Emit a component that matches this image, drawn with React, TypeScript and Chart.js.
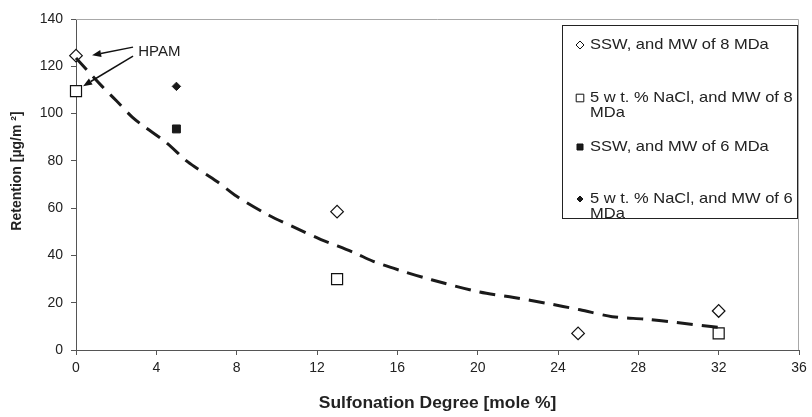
import React, { useEffect, useRef } from "react";
import { Chart, registerables } from "chart.js";

Chart.register(...registerables);

// ---------- data ----------
const xTickValues = [0, 4, 8, 12, 16, 20, 24, 28, 32, 36];
const yTickValues = [0, 20, 40, 60, 80, 100, 120, 140];

const ssw8X = [0, 13, 25, 32];
const ssw8Y = [124.5, 58.5, 7, 16.5];
const nacl8X = [0, 13, 32];
const nacl8Y = [109.5, 30, 7];
const ssw6X = [5];
const ssw6Y = [93.5];
const nacl6X = [5];
const nacl6Y = [111.5];

const trendX = [0, 1.3, 2, 2.8, 3.4, 4.5, 5.5, 6, 7, 8, 9.6, 11.3, 12.2, 13, 13.9, 14.8, 16.2, 17.7, 20.1, 21.8, 23.4, 25.1, 26.7, 28.4, 29.9, 32];
const trendY = [123.5, 111.5, 105.5, 98.5, 94.5, 87.7, 80, 77, 71.4, 65, 57, 50.2, 46.7, 44.1, 41, 37.5, 33.5, 29.7, 24.5, 22.2, 19.8, 17, 14.1, 13, 11.6, 9.6];

const legendLines = [
  ["SSW, and MW of 8 MDa"],
  ["5 w t. % NaCl, and MW of 8", "MDa"],
  ["SSW, and MW of 6 MDa"],
  ["5 w t. % NaCl, and MW of 6", "MDa"],
];

const xTitle = "Sulfonation Degree [mole %]";
const yTitle = "Retention [µg/m ²]";
const hpamText = "HPAM";

const FONT = "'Liberation Sans', Arial, sans-serif";

const toPts = (xs: number[], ys: number[]) => xs.map((x, i) => ({ x, y: ys[i] }));

function drawMarker(ctx: CanvasRenderingContext2D, style: string, x: number, y: number, r: number, fill: string) {
  ctx.save();
  ctx.beginPath();
  if (style === "rectRot") {
    ctx.moveTo(x - r, y);
    ctx.lineTo(x, y - r);
    ctx.lineTo(x + r, y);
    ctx.lineTo(x, y + r);
    ctx.closePath();
  } else {
    ctx.rect(x - r, y - r, 2 * r, 2 * r);
  }
  ctx.fillStyle = fill;
  ctx.fill();
  ctx.strokeStyle = "#111";
  ctx.lineWidth = 1;
  ctx.stroke();
  ctx.restore();
}

function stretchedText(ctx: CanvasRenderingContext2D, text: string, x: number, y: number, sx: number) {
  ctx.save();
  ctx.translate(x, y);
  ctx.scale(sx, 1);
  ctx.fillText(text, 0, 0);
  ctx.restore();
}

const decorPlugin = {
  id: "decor",
  afterDraw(chart: any) {
    const { ctx, chartArea, scales } = chart;
    const xs = scales.x;
    const ys = scales.y;
    ctx.save();
    // plot frame top/right
    ctx.strokeStyle = "#a8a8a8";
    ctx.lineWidth = 1;
    ctx.beginPath();
    ctx.moveTo(chartArea.left, chartArea.top + 0.5);
    ctx.lineTo(chartArea.right - 0.5, chartArea.top + 0.5);
    ctx.lineTo(chartArea.right - 0.5, chartArea.bottom);
    ctx.stroke();

    // axis titles
    ctx.fillStyle = "#222";
    ctx.font = `bold 16px ${FONT}`;
    ctx.textAlign = "center";
    ctx.textBaseline = "middle";
    stretchedText(ctx, xTitle, (chartArea.left + chartArea.right) / 2, 404, 1.09);
    ctx.save();
    ctx.translate(17, 171);
    ctx.rotate(-Math.PI / 2);
    ctx.font = `bold 14px ${FONT}`;
    ctx.fillText(yTitle, 0, 0);
    ctx.restore();

    // HPAM annotation
    ctx.font = `15px ${FONT}`;
    ctx.textAlign = "left";
    ctx.fillStyle = "#222";
    ctx.fillText(hpamText, xs.getPixelForValue(3.1), ys.getPixelForValue(126));
    const arrows = [
      [2.84, 128.1, 0.8, 124.7],
      [2.84, 124.3, 0.35, 111.6],
    ];
    ctx.strokeStyle = "#111";
    ctx.fillStyle = "#111";
    ctx.lineWidth = 1.5;
    arrows.forEach(([fx, fy, tx, ty]) => {
      const x1 = xs.getPixelForValue(fx), y1 = ys.getPixelForValue(fy);
      const x2 = xs.getPixelForValue(tx), y2 = ys.getPixelForValue(ty);
      const ang = Math.atan2(y2 - y1, x2 - x1);
      const hl = 9, hw = 3.5;
      const bx = x2 - hl * Math.cos(ang), by = y2 - hl * Math.sin(ang);
      ctx.beginPath();
      ctx.moveTo(x1, y1);
      ctx.lineTo(bx, by);
      ctx.stroke();
      ctx.beginPath();
      ctx.moveTo(x2, y2);
      ctx.lineTo(bx + hw * Math.sin(ang), by - hw * Math.cos(ang));
      ctx.lineTo(bx - hw * Math.sin(ang), by + hw * Math.cos(ang));
      ctx.closePath();
      ctx.fill();
    });

    // legend
    const bx0 = 562.5, by0 = 25.5, bx1 = 797.5, by1 = 218.5;
    ctx.fillStyle = "#fff";
    ctx.fillRect(bx0, by0, bx1 - bx0, by1 - by0);
    ctx.strokeStyle = "#222";
    ctx.lineWidth = 1;
    ctx.strokeRect(bx0, by0, bx1 - bx0, by1 - by0);
    const rowY = [45, 98, 147, 199];
    const markers: [string, number, string][] = [
      ["rectRot", 4, "#fff"],
      ["rect", 3.8, "#fff"],
      ["rect", 3, "#1a1a1a"],
      ["rectRot", 3, "#1a1a1a"],
    ];
    ctx.font = `15px ${FONT}`;
    ctx.textAlign = "left";
    ctx.textBaseline = "middle";
    legendLines.forEach((lines, i) => {
      const [st, r, fill] = markers[i];
      drawMarker(ctx, st, 580, rowY[i], r, fill);
      ctx.fillStyle = "#222";
      lines.forEach((ln, j) => {
        stretchedText(ctx, ln, 590, rowY[i] + j * 15, 1.1);
      });
    });
    ctx.restore();
  },
};

export default function App() {
  const ref = useRef<HTMLCanvasElement | null>(null);
  useEffect(() => {
    document.body.style.margin = "0";
    const canvas = ref.current!;
    const chart = new Chart(canvas, {
      type: "scatter",
      data: {
        datasets: [
          {
            label: "trend",
            data: toPts(trendX, trendY),
            showLine: true,
            borderColor: "#1a1a1a",
            borderWidth: 3,
            borderDash: [16, 9],
            pointRadius: 0,
            tension: 0.3,
            fill: false,
            clip: false,
          } as any,
          {
            label: legendLines[0].join(" "),
            data: toPts(ssw8X, ssw8Y),
            pointStyle: "rectRot",
            pointRadius: 6.3,
            backgroundColor: "#fff",
            borderColor: "#111",
            borderWidth: 1.2,
            clip: false,
          },
          {
            label: legendLines[1].join(" "),
            data: toPts(nacl8X, nacl8Y),
            pointStyle: "rect",
            pointRadius: 7.8,
            backgroundColor: "#fff",
            borderColor: "#111",
            borderWidth: 1.2,
            clip: false,
          },
          {
            label: legendLines[2].join(" "),
            data: toPts(ssw6X, ssw6Y),
            pointStyle: "rect",
            pointRadius: 5.6,
            backgroundColor: "#1a1a1a",
            borderColor: "#1a1a1a",
            borderWidth: 1,
            clip: false,
          },
          {
            label: legendLines[3].join(" "),
            data: toPts(nacl6X, nacl6Y),
            pointStyle: "rectRot",
            pointRadius: 4.2,
            backgroundColor: "#1a1a1a",
            borderColor: "#1a1a1a",
            borderWidth: 1,
            clip: false,
          },
        ],
      },
      options: {
        responsive: false,
        animation: false,
        devicePixelRatio: 1,
        layout: { padding: { left: 0, top: 19, right: 13, bottom: 0 } },
        plugins: { legend: { display: false }, tooltip: { enabled: false } },
        scales: {
          x: {
            type: "linear",
            min: 0,
            max: 36,
            afterBuildTicks: (s: any) => {
              s.ticks = xTickValues.map((v) => ({ value: v }));
            },
            afterFit: (s: any) => {
              s.height = 67;
            },
            ticks: { font: { family: FONT, size: 14 }, color: "#222", padding: 5, maxRotation: 0 },
            grid: { drawOnChartArea: false, color: "#555", tickLength: 5 },
            border: { color: "#555", width: 1 },
          },
          y: {
            type: "linear",
            min: 0,
            max: 140,
            afterBuildTicks: (s: any) => {
              s.ticks = yTickValues.map((v) => ({ value: v }));
            },
            afterFit: (s: any) => {
              s.width = 76;
            },
            ticks: { font: { family: FONT, size: 14 }, color: "#222", padding: 8 },
            grid: { drawOnChartArea: false, color: "#555", tickLength: 5 },
            border: { color: "#555", width: 1 },
          },
        },
      },
      plugins: [decorPlugin],
    } as any);
    return () => chart.destroy();
  }, []);
  return <canvas ref={ref} width={812} height={417} style={{ display: "block" }} />;
}
